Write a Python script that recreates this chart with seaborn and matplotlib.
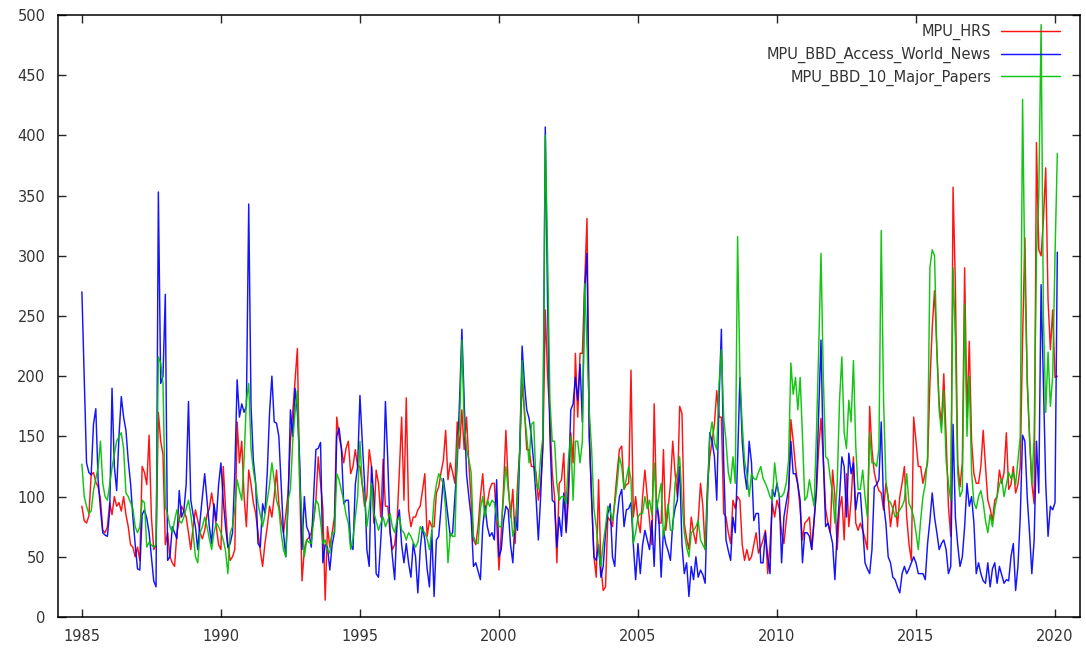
import numpy as np
import pandas as pd
import matplotlib
matplotlib.use("Agg")
import matplotlib.pyplot as plt
import seaborn as sns

# monthly index values, Jan 1985 .. Feb 2020
series_names = ['MPU_HRS', 'MPU_BBD_Access_World_News', 'MPU_BBD_10_Major_Papers']
series_colors = ['#ff0000', '#0000ff', '#00c000']
start_year = 1985

hrs = [
    92, 80, 78, 84, 118, 120, 112, 108, 98, 72, 70, 75,        # 1985
    95, 85, 100, 92, 95, 88, 100, 85, 75, 60, 58, 50,          # 1986
    58, 47, 125, 120, 110, 151, 83, 56, 60, 170, 146, 135,     # 1987
    60, 70, 50, 45, 42, 70, 80, 92, 88, 83, 70, 56,            # 1988
    75, 89, 80, 70, 65, 72, 85, 90, 103, 90, 75, 60,           # 1989
    56, 125, 90, 60, 47, 50, 56, 162, 128, 146, 100, 75,       # 1990
    122, 110, 95, 86, 70, 55, 42, 61, 75, 92, 83, 100,         # 1991
    122, 94, 80, 70, 85, 103, 146, 170, 197, 223, 110, 30,     # 1992
    56, 64, 66, 70, 80, 97, 133, 111, 90, 14, 75, 58,          # 1993
    70, 83, 166, 150, 140, 128, 140, 146, 119, 125, 139, 125,  # 1994
    125, 110, 92, 100, 139, 125, 78, 122, 111, 83, 131, 92,    # 1995
    92, 70, 56, 60, 78, 120, 166, 97, 182, 89, 75, 83,         # 1996
    83, 89, 92, 105, 119, 67, 80, 75, 75, 103, 108, 120,       # 1997
    130, 155, 114, 128, 120, 111, 162, 140, 172, 139, 166, 128,  # 1998
    97, 64, 60, 75, 100, 119, 89, 95, 106, 111, 111, 80,       # 1999
    39, 70, 108, 155, 110, 83, 106, 61, 110, 139, 194, 172,    # 2000
    139, 139, 125, 125, 120, 97, 110, 140, 255, 200, 166, 120,  # 2001
    100, 45, 111, 114, 136, 72, 97, 153, 128, 219, 166, 219,   # 2002
    219, 277, 331, 150, 100, 50, 33, 114, 42, 22, 25, 83,      # 2003
    80, 75, 97, 120, 139, 142, 106, 110, 111, 205, 83, 100,    # 2004
    80, 70, 100, 122, 100, 80, 60, 177, 94, 78, 78, 139,       # 2005
    72, 89, 110, 146, 120, 100, 175, 169, 78, 65, 56, 83,      # 2006
    70, 61, 80, 111, 92, 56, 110, 133, 146, 160, 188, 166,     # 2007
    166, 86, 83, 70, 61, 97, 90, 100, 97, 60, 47, 56,          # 2008
    47, 50, 60, 70, 53, 58, 64, 72, 36, 60, 94, 83,            # 2009
    97, 90, 70, 61, 80, 97, 164, 146, 125, 110, 90, 64,        # 2010
    78, 80, 83, 56, 80, 103, 140, 165, 131, 90, 78, 70,        # 2011
    122, 100, 56, 90, 100, 64, 119, 75, 97, 133, 78, 72,       # 2012
    78, 72, 65, 56, 175, 139, 120, 111, 105, 103, 89, 111,     # 2013
    100, 75, 90, 97, 75, 100, 111, 125, 83, 60, 47, 166,       # 2014
    146, 125, 125, 111, 120, 128, 194, 240, 271, 222, 177, 160,  # 2015
    202, 150, 92, 67, 357, 276, 128, 108, 128, 290, 166, 229,  # 2016
    146, 119, 111, 111, 125, 155, 125, 97, 90, 80, 97, 100,    # 2017
    122, 111, 120, 153, 106, 110, 125, 103, 110, 125, 230, 315,  # 2018
    194, 150, 111, 94, 394, 305, 300, 330, 373, 263, 222, 255,  # 2019
    199, 200,                                                   # 2020
]

awn = [
    270, 200, 128, 120, 118, 160, 173, 114, 90, 70, 68, 67,    # 1985
    88, 190, 125, 105, 150, 183, 166, 155, 130, 111, 83, 60,   # 1986
    40, 39, 85, 89, 82, 70, 50, 30, 25, 353, 194, 200,         # 1987
    268, 47, 50, 75, 70, 65, 105, 83, 88, 110, 179, 97,        # 1988
    85, 75, 56, 80, 100, 119, 97, 75, 61, 94, 80, 110,         # 1989
    128, 97, 75, 58, 61, 70, 120, 197, 166, 177, 170, 175,     # 1990
    343, 175, 130, 111, 61, 58, 94, 86, 120, 170, 200, 162,    # 1991
    161, 150, 110, 70, 50, 95, 172, 150, 190, 170, 130, 56,    # 1992
    100, 75, 70, 58, 100, 139, 140, 145, 45, 60, 58, 39,       # 1993
    60, 70, 150, 157, 140, 94, 97, 97, 60, 56, 110, 125,       # 1994
    184, 146, 111, 56, 42, 125, 100, 36, 33, 64, 100, 179,     # 1995
    131, 72, 50, 31, 78, 89, 60, 45, 61, 45, 33, 61,           # 1996
    50, 20, 56, 75, 64, 40, 25, 72, 17, 64, 67, 90,            # 1997
    115, 100, 83, 67, 70, 100, 128, 180, 239, 180, 119, 100,   # 1998
    83, 42, 45, 38, 31, 75, 92, 75, 67, 70, 64, 114,           # 1999
    50, 56, 80, 92, 89, 60, 45, 83, 72, 140, 225, 194,         # 2000
    172, 165, 150, 128, 100, 64, 100, 150, 407, 260, 150, 97,  # 2001
    95, 58, 83, 67, 103, 70, 111, 172, 177, 199, 180, 210,     # 2002
    162, 271, 302, 150, 97, 50, 47, 60, 33, 42, 70, 86,        # 2003
    94, 50, 42, 83, 100, 106, 75, 89, 90, 95, 60, 31,          # 2004
    61, 36, 60, 72, 64, 56, 80, 42, 97, 83, 33, 72,            # 2005
    61, 55, 47, 78, 90, 97, 125, 60, 36, 45, 17, 42,           # 2006
    31, 50, 33, 39, 35, 28, 100, 153, 146, 133, 97, 180,       # 2007
    239, 128, 64, 55, 47, 83, 70, 130, 199, 146, 120, 106,     # 2008
    146, 128, 80, 86, 86, 45, 45, 70, 50, 36, 106, 100,        # 2009
    111, 100, 45, 83, 95, 106, 146, 119, 119, 110, 97, 45,     # 2010
    70, 70, 67, 56, 80, 106, 170, 230, 131, 75, 78, 70,        # 2011
    61, 31, 72, 100, 133, 125, 83, 136, 119, 128, 89, 103,     # 2012
    103, 75, 45, 40, 36, 56, 108, 110, 114, 162, 94, 78,       # 2013
    50, 45, 33, 31, 25, 20, 36, 42, 36, 40, 45, 50,            # 2014
    45, 36, 36, 36, 31, 61, 80, 103, 83, 70, 56, 61,           # 2015
    64, 56, 36, 42, 160, 83, 60, 42, 50, 75, 111, 92,          # 2016
    100, 78, 36, 45, 36, 30, 28, 45, 25, 40, 45, 28,           # 2017
    42, 35, 28, 31, 30, 50, 61, 22, 42, 83, 151, 146,          # 2018
    100, 70, 36, 64, 146, 103, 276, 194, 111, 67, 92, 89,      # 2019
    95, 303,                                                    # 2020
]

ten = [
    127, 100, 92, 86, 88, 105, 115, 124, 146, 111, 100, 97,    # 1985
    110, 124, 135, 146, 150, 153, 140, 103, 100, 95, 90, 75,   # 1986
    70, 75, 97, 95, 58, 62, 60, 58, 60, 216, 211, 194,         # 1987
    92, 85, 75, 70, 80, 89, 80, 78, 83, 90, 97, 85,            # 1988
    70, 50, 45, 70, 75, 83, 75, 65, 56, 70, 78, 75,            # 1989
    70, 64, 55, 36, 70, 75, 90, 114, 105, 97, 131, 180,        # 1990
    194, 140, 122, 110, 94, 85, 75, 85, 97, 110, 128, 114,     # 1991
    97, 90, 70, 56, 50, 97, 106, 146, 170, 188, 110, 83,       # 1992
    50, 64, 62, 61, 80, 97, 94, 80, 61, 64, 55, 53,            # 1993
    70, 70, 119, 114, 105, 97, 85, 78, 56, 65, 83, 100,        # 1994
    146, 110, 100, 75, 90, 111, 86, 80, 72, 78, 83, 75,        # 1995
    80, 86, 75, 70, 80, 83, 72, 70, 64, 70, 67, 62,            # 1996
    58, 62, 75, 72, 70, 65, 56, 70, 97, 110, 119, 115,         # 1997
    111, 90, 45, 70, 67, 67, 140, 159, 230, 162, 139, 131,     # 1998
    120, 67, 62, 61, 90, 100, 83, 97, 92, 97, 95, 83,          # 1999
    75, 75, 100, 125, 106, 89, 67, 75, 100, 139, 213, 169,     # 2000
    150, 128, 160, 162, 111, 106, 133, 150, 400, 300, 180, 146,  # 2001
    146, 111, 97, 100, 100, 94, 131, 150, 97, 146, 146, 128,   # 2002
    146, 277, 225, 170, 139, 90, 75, 56, 42, 61, 75, 92,       # 2003
    88, 80, 94, 110, 133, 125, 106, 115, 125, 114, 61, 70,     # 2004
    83, 86, 86, 100, 90, 97, 85, 128, 89, 100, 111, 67,        # 2005
    80, 94, 72, 72, 111, 120, 133, 97, 70, 58, 50, 70,         # 2006
    72, 75, 80, 64, 60, 56, 100, 150, 162, 145, 139, 194,      # 2007
    222, 166, 146, 120, 111, 133, 111, 316, 200, 160, 130, 119,  # 2008
    100, 119, 115, 114, 120, 125, 115, 111, 106, 100, 97, 128,  # 2009
    110, 100, 100, 103, 111, 130, 211, 185, 199, 172, 199, 150,  # 2010
    97, 100, 114, 103, 92, 150, 222, 302, 199, 133, 131, 115,  # 2011
    103, 78, 111, 180, 216, 153, 140, 180, 162, 213, 142, 106,  # 2012
    106, 122, 100, 83, 153, 128, 128, 125, 140, 321, 180, 114,  # 2013
    97, 95, 90, 83, 86, 89, 92, 97, 119, 94, 90, 83,           # 2014
    70, 56, 80, 100, 110, 133, 290, 305, 300, 222, 172, 153,   # 2015
    188, 130, 111, 97, 290, 230, 120, 100, 105, 260, 150, 200,  # 2016
    120, 95, 90, 100, 105, 95, 80, 70, 85, 75, 90, 100,        # 2017
    110, 115, 100, 110, 120, 115, 120, 110, 130, 150, 430, 280,  # 2018
    200, 150, 110, 150, 300, 350, 492, 250, 170, 220, 175, 200,  # 2019
    300, 385,                                                   # 2020
]

assert len(hrs) == len(awn) == len(ten)

frames = []
for name, vals in zip(series_names, [hrs, awn, ten]):
    t = start_year + np.arange(len(vals)) / 12.0
    frames.append(pd.DataFrame({'year': t, 'value': vals, 'series': name}))
df = pd.concat(frames, ignore_index=True)

sns.set_style('ticks')
plt.rcParams['font.family'] = ['DejaVu Sans']

fig = plt.figure(figsize=(10.86, 6.57), dpi=100)
ax = fig.add_axes([0.0534, 0.0609, 0.9411, 0.9163])

sns.lineplot(data=df, x='year', y='value', hue='series', hue_order=series_names,
             palette=dict(zip(series_names, series_colors)), linewidth=1.05,
             alpha=0.92, estimator=None, sort=False, ax=ax)

ax.set_xlim(1984.14, 2020.9)
ax.set_ylim(0, 500)
ax.set_xticks(range(1985, 2021, 5))
ax.set_yticks(range(0, 501, 50))
ax.set_xlabel('')
ax.set_ylabel('')
ax.tick_params(direction='in', top=True, right=True, length=6, width=1,
               labelsize=10.5, labelcolor='#333333')
ax.tick_params(axis='x', pad=9)
ax.tick_params(axis='y', pad=9)
for s in ax.spines.values():
    s.set_visible(True)
    s.set_linewidth(1.1)
    s.set_color('black')

handles, labels = ax.get_legend_handles_labels()
ax.legend(handles, labels, loc='upper right', bbox_to_anchor=(0.983, 0.99),
          frameon=False, markerfirst=False, handlelength=4, fontsize=10.5,
          labelspacing=0.45, handletextpad=0.7, borderaxespad=0, borderpad=0.2,
          labelcolor='#333333')

fig.savefig('out.png', dpi=100)
